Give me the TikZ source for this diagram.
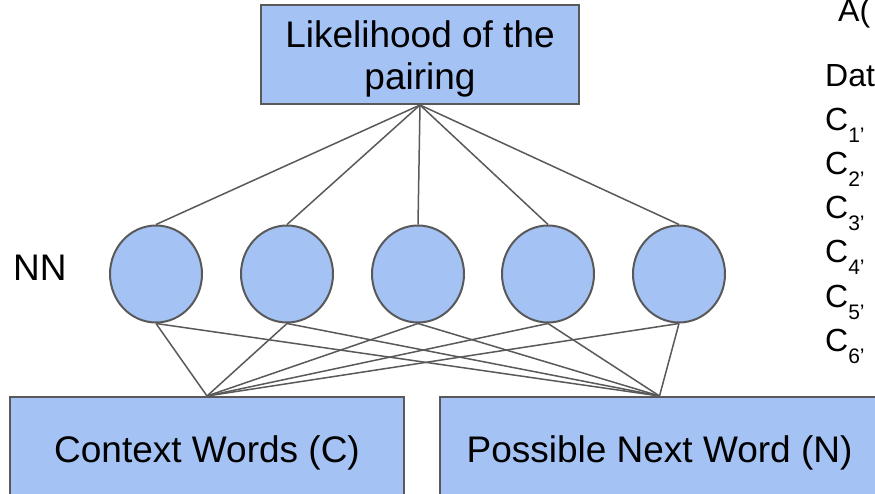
\documentclass[tikz,border=0pt]{standalone}
\usepackage{fontspec}
\setmainfont{Liberation Sans}
\usepackage{tikz}
\usetikzlibrary{shapes.geometric}
\definecolor{nnblue}{HTML}{A4C2F4}
\definecolor{edge}{HTML}{595959}
\newcommand{\bigtxt}{\fontsize{37}{42}\selectfont}
\newcommand{\sidetxt}{\fontsize{32}{44}\selectfont}
\newcommand{\subtxt}{\fontsize{21}{21}\selectfont}
\newcommand{\csub}[1]{C\raisebox{-12pt}{\subtxt #1’}}

\begin{document}
\begin{tikzpicture}[x=1pt, y=-1pt,
    box/.style={rectangle, draw=edge, line width=2pt, fill=nnblue, inner sep=0pt},
    boxtxt/.style={font=\bigtxt, align=center, inner sep=0pt},
    neuron/.style={ellipse, draw=edge, line width=2pt, fill=nnblue, minimum width=92pt, minimum height=97pt, inner sep=0pt},
    link/.style={draw=edge, line width=1.5pt},
    side/.style={anchor=base west, font=\sidetxt, inner sep=0pt}]

    % Frame of the picture (boxes and text run past it)
    \useasboundingbox (0,0) rectangle (875,494);
    \clip (0,0) rectangle (875,494);

    % Output box at the top
    \node[box, minimum width=318pt, minimum height=99pt] (pairing) at (420,54.5) {};
    \node[boxtxt] (pairingtxt) at (420,59) {Likelihood of the\\pairing};

    % Hidden layer
    \node[neuron] (h1) at (156,274) {};
    \node[neuron] (h2) at (287,274) {};
    \node[neuron] (h3) at (418,274) {};
    \node[neuron] (h4) at (548,274) {};
    \node[neuron] (h5) at (679,274) {};
    \node[font=\bigtxt, anchor=base west, inner sep=0pt] (nn) at (13,280) {NN};

    % Input boxes at the bottom
    \node[box, minimum width=394pt, minimum height=102pt] (ctx) at (207,448) {};
    \node[boxtxt] (ctxtxt) at (207,453) {Context Words (C)};
    \node[box, minimum width=439pt, minimum height=102pt] (nxt) at (659.5,448) {};
    \node[boxtxt] (nxttxt) at (659.5,453) {Possible Next Word (N)};

    % Output to hidden units
    \draw[link] (pairing.south) -- (h1.north);
    \draw[link] (pairing.south) -- (h2.north);
    \draw[link] (pairing.south) -- (h3.north);
    \draw[link] (pairing.south) -- (h4.north);
    \draw[link] (pairing.south) -- (h5.north);

    % Hidden units to both inputs
    \draw[link] (h1.south) -- (ctx.north);
    \draw[link] (h1.south) -- (nxt.north);
    \draw[link] (h2.south) -- (ctx.north);
    \draw[link] (h2.south) -- (nxt.north);
    \draw[link] (h3.south) -- (ctx.north);
    \draw[link] (h3.south) -- (nxt.north);
    \draw[link] (h4.south) -- (ctx.north);
    \draw[link] (h4.south) -- (nxt.north);
    \draw[link] (h5.south) -- (ctx.north);
    \draw[link] (h5.south) -- (nxt.north);

    % Data listing on the right
    \node[side] (acall) at (838,22) {A(};
    \node[side] (dat) at (825,87) {Dat};
    \node[side] (c1) at (825,131) {\csub{1}};
    \node[side] (c2) at (825,175) {\csub{2}};
    \node[side] (c3) at (825,219) {\csub{3}};
    \node[side] (c4) at (825,263) {\csub{4}};
    \node[side] (c5) at (825,307) {\csub{5}};
    \node[side] (c6) at (825,351) {\csub{6}};

\end{tikzpicture}
\end{document}
